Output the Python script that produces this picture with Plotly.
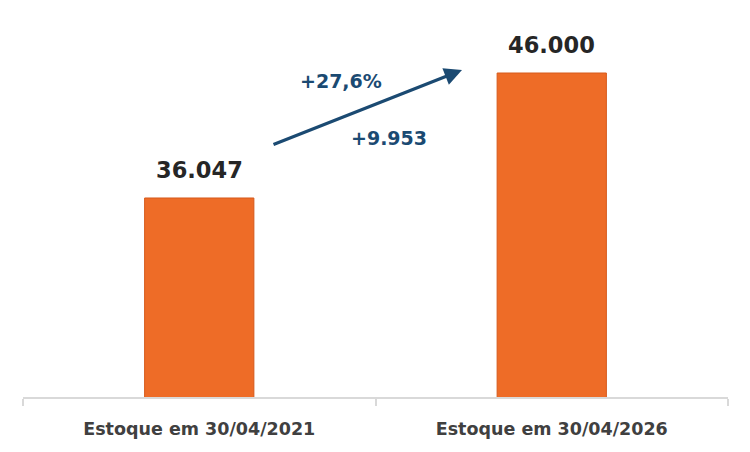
import plotly.graph_objects as go

categories = ["Estoque em 30/04/2021", "Estoque em 30/04/2026"]
values = [36047, 46000]
value_labels = ["36.047", "46.000"]
growth_pct = "+27,6%"
growth_abs = "+9.953"

FONT = "DejaVu Sans"

fig = go.Figure()
fig.add_trace(go.Bar(
    x=categories, y=values,
    marker=dict(color="#EE6C27", line=dict(color="#D65A1C", width=1)),
    width=0.31,
    hoverinfo="skip",
))

for c, v, t in zip(categories, values, value_labels):
    fig.add_annotation(x=c, y=v, text=t, showarrow=False, yshift=28,
                       xanchor="center", yanchor="middle",
                       font=dict(family=FONT, size=22.5, color="#262626", weight="bold"))

# growth arrow
fig.add_annotation(x=0.6227, y=0.8674, xref="paper", yref="paper",
                   ax=-190, ay=75, axref="pixel", ayref="pixel",
                   showarrow=True, arrowhead=2, arrowsize=1.1, arrowwidth=3.2,
                   arrowcolor="#1B4A72", text="")
fig.add_annotation(x=(341-23)/705, y=(397-81)/377, xref="paper", yref="paper",
                   xanchor="center", yanchor="middle",
                   text=growth_pct, showarrow=False,
                   font=dict(family=FONT, size=19, color="#1B4A72", weight="bold"))
fig.add_annotation(x=(389-23)/705, y=(397-138)/377, xref="paper", yref="paper",
                   xanchor="center", yanchor="middle",
                   text=growth_abs, showarrow=False,
                   font=dict(family=FONT, size=19, color="#1B4A72", weight="bold"))

fig.update_layout(
    width=750, height=452,
    margin=dict(l=15, r=30, t=12, b=63),
    paper_bgcolor="white", plot_bgcolor="white",
    showlegend=False,
    xaxis=dict(showline=True, linecolor="#D9D9D9", linewidth=2,
               ticks="outside", tickson="boundaries", ticklen=7, tickcolor="#D9D9D9", tickwidth=2,
               ticklabelstandoff=15,
               tickfont=dict(family=FONT, size=17.5, color="#404040", weight="bold"),
               showgrid=False, fixedrange=True),
    yaxis=dict(range=[20200, 50220], visible=False, showgrid=False, zeroline=False, fixedrange=True),
)

fig.write_html("out.html")
